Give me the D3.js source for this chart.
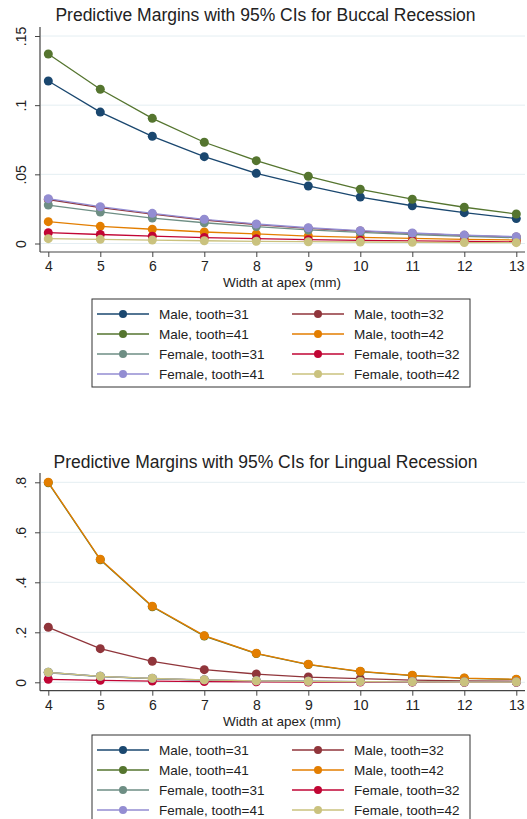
<!DOCTYPE html>
<html>
<head>
<meta charset="utf-8">
<script src="https://cdn.jsdelivr.net/npm/d3@7"></script>
<style>
  body { margin: 0; background: #fff; }
  svg { display: block; font-family: "Liberation Sans", Arial, sans-serif; }
</style>
</head>
<body>
<div id="chart"></div>
<script>
// x values (width at apex, mm)
var widths = [4, 5, 6, 7, 8, 9, 10, 11, 12, 13];

var seriesNames = ["Male, tooth=31", "Male, tooth=32", "Male, tooth=41", "Male, tooth=42",
                   "Female, tooth=31", "Female, tooth=32", "Female, tooth=41", "Female, tooth=42"];
var seriesColors = ["#1a476f", "#90353b", "#55752f", "#e37e00",
                    "#6e8e84", "#c10534", "#938dd2", "#cac27e"];

// Buccal recession predicted margins
var buccal = [
  [0.1175, 0.095, 0.0775, 0.0628, 0.0507, 0.0416, 0.0336, 0.0273, 0.0223, 0.0180],
  [0.0318, 0.0260, 0.0212, 0.0170, 0.0137, 0.0110, 0.0090, 0.0073, 0.0059, 0.0047],
  [0.1370, 0.1115, 0.0905, 0.0732, 0.0599, 0.0486, 0.0392, 0.0320, 0.0262, 0.0213],
  [0.0158, 0.0124, 0.0103, 0.0083, 0.0069, 0.0054, 0.0045, 0.0037, 0.0030, 0.0025],
  [0.0278, 0.0228, 0.0184, 0.0150, 0.0122, 0.0098, 0.0080, 0.0065, 0.0052, 0.0042],
  [0.0078, 0.0065, 0.0053, 0.0043, 0.0035, 0.0028, 0.0023, 0.0019, 0.0015, 0.0012],
  [0.0324, 0.0266, 0.0218, 0.0175, 0.0141, 0.0114, 0.0093, 0.0076, 0.0061, 0.0049],
  [0.0035, 0.0030, 0.0025, 0.0020, 0.0016, 0.0013, 0.0011, 0.0009, 0.0007, 0.0006]
];

// Lingual recession predicted margins
var lingual = [
  [0.040, 0.024, 0.015, 0.009, 0.006, 0.004, 0.003, 0.002, 0.001, 0.001],
  [0.220, 0.1345, 0.084, 0.0506, 0.033, 0.021, 0.0145, 0.009, 0.006, 0.004],
  [0.798, 0.490, 0.302, 0.185, 0.115, 0.071, 0.043, 0.027, 0.016, 0.011],
  [0.800, 0.492, 0.304, 0.1866, 0.116, 0.072, 0.044, 0.028, 0.017, 0.012],
  [0.038, 0.023, 0.015, 0.009, 0.006, 0.004, 0.003, 0.002, 0.001, 0.001],
  [0.012, 0.008, 0.005, 0.003, 0.002, 0.001, 0.001, 0.001, 0.000, 0.000],
  [0.039, 0.024, 0.016, 0.010, 0.006, 0.004, 0.003, 0.002, 0.001, 0.001],
  [0.040, 0.024, 0.016, 0.010, 0.006, 0.004, 0.003, 0.002, 0.001, 0.001]
];

var buccalTicks = [0, 0.05, 0.1, 0.15];
var buccalLabels = ["0", ".05", ".1", ".15"];
var lingualTicks = [0, 0.2, 0.4, 0.6, 0.8];
var lingualLabels = ["0", ".2", ".4", ".6", ".8"];

var W = 527, H = 819;
var svg = d3.select("#chart").append("svg")
    .attr("width", W)
    .attr("height", H);

function drawPanel(opts) {
    var g = svg.append("g").attr("transform", "translate(0," + opts.top + ")");

    var x = d3.scaleLinear().domain([4, 13]).range([48.3, 516.3]);
    var y = d3.scaleLinear().domain([0, opts.yMax]).range([opts.y0, opts.yTop]);

    // title
    g.append("text")
        .attr("x", 265.5).attr("y", opts.titleY)
        .attr("text-anchor", "middle")
        .attr("font-size", 17.5)
        .attr("fill", "#222")
        .text(opts.title);

    // gridlines
    g.append("g").selectAll("line")
        .data(opts.ticks)
        .join("line")
        .attr("x1", 41).attr("x2", 525)
        .attr("y1", function(d) { return y(d); })
        .attr("y2", function(d) { return y(d); })
        .attr("stroke", "#e4eef2")
        .attr("stroke-width", 1);

    // y axis
    var yAxis = d3.axisLeft(y)
        .tickValues(opts.ticks)
        .tickSize(5)
        .tickPadding(6)
        .tickFormat(function(d, i) { return opts.labels[i]; });
    var ya = g.append("g").attr("transform", "translate(40,0)").call(yAxis);
    ya.select(".domain").remove();
    ya.selectAll(".tick line").attr("stroke", "#444");
    ya.selectAll(".tick text")
        .attr("font-size", 14)
        .attr("fill", "#222")
        .attr("transform", "rotate(-90)")
        .attr("x", 0).attr("dy", "0.35em")
        .attr("y", -19)
        .attr("text-anchor", "middle");

    // x axis
    var xAxis = d3.axisBottom(x)
        .tickValues(widths)
        .tickSize(5)
        .tickPadding(4)
        .tickFormat(d3.format("d"));
    var xa = g.append("g").attr("transform", "translate(0," + opts.xAxisY + ")").call(xAxis);
    xa.select(".domain").remove();
    xa.selectAll(".tick line").attr("stroke", "#444");
    xa.selectAll(".tick text").attr("font-size", 14).attr("fill", "#222");

    // axis lines
    g.append("line")
        .attr("x1", 40).attr("x2", 40)
        .attr("y1", opts.axisTop).attr("y2", opts.xAxisY)
        .attr("stroke", "#444").attr("stroke-width", 1.2);
    g.append("line")
        .attr("x1", 40).attr("x2", 525)
        .attr("y1", opts.xAxisY).attr("y2", opts.xAxisY)
        .attr("stroke", "#444").attr("stroke-width", 1.2);

    // x label
    g.append("text")
        .attr("x", 282).attr("y", opts.xAxisY + 35)
        .attr("text-anchor", "middle")
        .attr("font-size", 13.5)
        .attr("fill", "#222")
        .text("Width at apex (mm)");

    // series
    var line = d3.line()
        .x(function(d, i) { return x(widths[i]); })
        .y(function(d) { return y(d); });

    opts.data.forEach(function(vals, si) {
        var sg = g.append("g");
        sg.append("path")
            .datum(vals)
            .attr("d", line)
            .attr("fill", "none")
            .attr("stroke", seriesColors[si])
            .attr("stroke-width", 1.3);
        sg.selectAll("circle")
            .data(vals)
            .join("circle")
            .attr("cx", function(d, i) { return x(widths[i]); })
            .attr("cy", function(d) { return y(d); })
            .attr("r", 4.5)
            .attr("fill", seriesColors[si]);
    });

    // legend
    var lg = g.append("g").attr("transform", "translate(92," + opts.legendTop + ")");
    lg.append("rect")
        .attr("x", 0).attr("y", 0)
        .attr("width", 378).attr("height", 88)
        .attr("fill", "#fff")
        .attr("stroke", "#333")
        .attr("stroke-width", 1);
    seriesNames.forEach(function(name, i) {
        var col = i % 2, row = Math.floor(i / 2);
        var ox = col === 0 ? 5 : 200;
        var oy = 15 + row * 20;
        lg.append("line")
            .attr("x1", ox).attr("x2", ox + 52)
            .attr("y1", oy).attr("y2", oy)
            .attr("stroke", seriesColors[i]).attr("stroke-width", 1.3);
        lg.append("circle")
            .attr("cx", ox + 26).attr("cy", oy).attr("r", 4)
            .attr("fill", seriesColors[i]);
        lg.append("text")
            .attr("x", ox + 62).attr("y", oy)
            .attr("dy", "0.35em")
            .attr("font-size", 13.5)
            .attr("fill", "#222")
            .text(name);
    });
}

drawPanel({
    top: 0,
    title: "Predictive Margins with 95% CIs for Buccal Recession",
    titleY: 21,
    yMax: 0.15, y0: 243.5, yTop: 36,
    axisTop: 27, xAxisY: 252,
    ticks: buccalTicks, labels: buccalLabels,
    data: buccal,
    legendTop: 299
});

drawPanel({
    top: 439,
    title: "Predictive Margins with 95% CIs for Lingual Recession",
    titleY: 29,
    yMax: 0.8, y0: 243.3, yTop: 43.3,
    axisTop: 34, xAxisY: 251.7,
    ticks: lingualTicks, labels: lingualLabels,
    data: lingual,
    legendTop: 296
});
</script>
</body>
</html>
